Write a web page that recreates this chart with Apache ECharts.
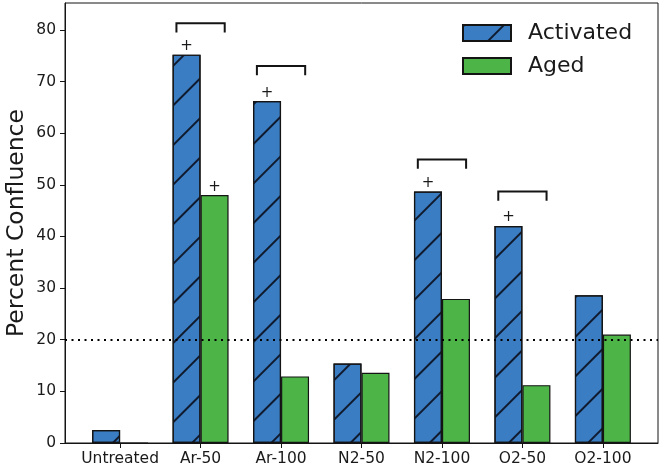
<!DOCTYPE html>
<html>
<head>
<meta charset="utf-8">
<script src="https://cdn.jsdelivr.net/npm/echarts@6/dist/echarts.min.js"></script>
<style>html,body{margin:0;padding:0;background:#fff;}#c{width:661px;height:470px;}</style>
</head>
<body>
<div id="c"></div>
<script>
var categories = ['Untreated', 'Ar-50', 'Ar-100', 'N2-50', 'N2-100', 'O2-50', 'O2-100'];
var activated = [2.5, 75.2, 66.2, 15.4, 48.7, 42.0, 28.6];
var aged = [0, 48.0, 12.9, 13.6, 27.9, 11.2, 21.0];
var activatedPlus = [false, true, true, false, true, true, false];
var agedPlus = [false, true, false, false, false, false, false];
var bracketCats = [1, 2, 4, 5];
var bracketTops = [81.3, 73.0, 54.9, 48.7];
var threshold = 20;
var yTicks = [0, 10, 20, 30, 40, 50, 60, 70, 80];

var BLUE = '#3b7dc2', GREEN = '#4db447', EDGE = '#141414', TXT = '#1a1a1a';
var FONT = 'DejaVu Sans';

function barData(vals, plus) {
  return vals.map(function (v, i) {
    var d = { value: [i, v] };
    if (plus[i]) d.label = { show: true, formatter: '+', position: 'top', distance: 1, fontSize: 15, color: TXT, fontFamily: FONT };
    return d;
  });
}

var chart = echarts.init(document.getElementById('c'), null, { renderer: 'canvas' });
chart.setOption({
  animation: false,
  backgroundColor: '#fff',
  textStyle: { fontFamily: FONT },
  grid: { left: 65, right: 3, top: 3, bottom: 27, outerBoundsMode: 'none', containLabel: false, show: true, borderColor: EDGE, borderWidth: 1, backgroundColor: 'transparent' },
  legend: {
    data: ['Activated', 'Aged'],
    orient: 'vertical',
    left: 457, top: 17,
    icon: 'rect',
    itemWidth: 48, itemHeight: 16, itemGap: 11,
    textStyle: { fontSize: 22, color: TXT, fontFamily: FONT, padding: [0, 0, 0, 12] }
  },
  xAxis: {
    type: 'value', min: -0.685, max: 6.685,
    splitLine: { show: false },
    axisLine: { show: true, onZero: false, lineStyle: { color: EDGE, width: 1 } },
    axisTick: { show: true, length: 5, lineStyle: { color: EDGE }, customValues: categories.map(function (c, i) { return i; }) },
    axisLabel: { customValues: categories.map(function (c, i) { return i; }), formatter: function (v) { return categories[Math.round(v)]; }, fontSize: 15.5, color: TXT, margin: 8, fontFamily: FONT }
  },
  yAxis: {
    type: 'value', min: 0, max: 85.2,
    name: 'Percent Confluence', nameLocation: 'middle', nameGap: 36, nameMoveOverlap: false,
    nameTextStyle: { fontSize: 23.5, color: TXT, fontFamily: FONT },
    splitLine: { show: false },
    axisLine: { show: true, onZero: false, lineStyle: { color: EDGE, width: 1 } },
    axisTick: { show: true, length: 5, lineStyle: { color: EDGE }, customValues: yTicks },
    axisLabel: { customValues: yTicks, fontSize: 15.5, color: TXT, margin: 9, fontFamily: FONT }
  },
  series: [
    {
      name: 'Activated', type: 'bar', barWidth: 28, barGap: '0%',
      itemStyle: {
        color: BLUE, borderColor: EDGE, borderWidth: 1.2,
        decal: { symbol: 'rect', symbolSize: 1, dashArrayX: [1, 0], dashArrayY: [1.6, 25.4], rotation: -Math.PI / 4, color: '#101a2e' }
      },
      data: barData(activated, activatedPlus),
      markLine: {
        silent: true, symbol: ['none', 'none'], label: { show: false },
        lineStyle: { type: [2, 4.5], width: 2.2, color: '#000' },
        data: [{ yAxis: threshold }]
      }
    },
    {
      name: 'Aged', type: 'bar', barWidth: 28, barGap: '0%',
      itemStyle: { color: GREEN, borderColor: EDGE, borderWidth: 1.2 },
      data: barData(aged, agedPlus)
    },
    {
      type: 'custom', silent: true,
      data: bracketCats.map(function (c, i) { return [c, bracketTops[i]]; }),
      renderItem: function (params, api) {
        var x = api.value(0), t = api.value(1);
        var pts = [api.coord([x - 0.3, t - 1.8]), api.coord([x - 0.3, t]), api.coord([x + 0.3, t]), api.coord([x + 0.3, t - 1.8])];
        return { type: 'polyline', shape: { points: pts }, style: { stroke: EDGE, lineWidth: 2, fill: 'none' } };
      }
    }
  ]
});
</script>
</body>
</html>
